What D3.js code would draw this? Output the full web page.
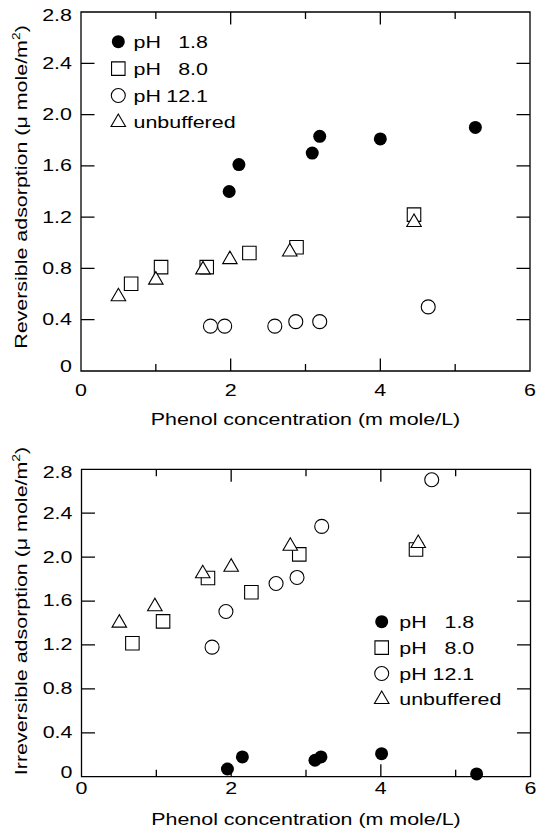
<!DOCTYPE html>
<html>
<head>
<meta charset="utf-8">
<script src="https://cdn.jsdelivr.net/npm/d3@7"></script>
<style>
  body { margin: 0; background: #fff; }
  svg text { font-family: "Liberation Sans", Arial, Helvetica, sans-serif; fill: #000; }
</style>
</head>
<body>
<svg id="chart" width="536" height="839"></svg>
<script>
// values: [phenol mmol/L, adsorption umol/m2]
const revPh18  = [[1.98, 1.40], [2.11, 1.61], [3.09, 1.70], [3.19, 1.83], [4.00, 1.81], [5.27, 1.90]];
const revPh80  = [[0.67, 0.68], [1.07, 0.81], [1.68, 0.81], [2.25, 0.92], [2.88, 0.965], [4.45, 1.22]];
const revPh121 = [[1.73, 0.35], [1.92, 0.35], [2.59, 0.35], [2.87, 0.385], [3.19, 0.385], [4.64, 0.50]];
const revUnbuf = [[0.50, 0.58], [1.00, 0.71], [1.63, 0.79], [1.99, 0.87], [2.79, 0.93], [4.45, 1.16]];

const irrPh18  = [[1.95, 0.07], [2.15, 0.18], [3.12, 0.15], [3.20, 0.18], [4.01, 0.21], [5.28, 0.025]];
const irrPh80  = [[0.68, 1.215], [1.09, 1.415], [1.69, 1.81], [2.27, 1.68], [2.91, 2.025], [4.47, 2.07]];
const irrPh121 = [[1.745, 1.18], [1.93, 1.505], [2.60, 1.76], [2.88, 1.815], [3.21, 2.28], [4.68, 2.705]];
const irrUnbuf = [[0.505, 1.40], [0.98, 1.55], [1.62, 1.85], [2.00, 1.91], [2.79, 2.10], [4.50, 2.125]];

const seriesKeys   = ["ph18", "ph80", "ph121", "unbuf"];
const legendPrefix = ["pH", "pH", "pH", "unbuffered"];
const legendValue  = ["1.8", "8.0", "12.1", ""];

const xMajorTicks = [0, 2, 4, 6];
const xMinorTicks = [1, 3, 5];
const yTicks = [0, 0.4, 0.8, 1.2, 1.6, 2.0, 2.4, 2.8];
const xTitle = "Phenol concentration (m mole/L)";

const STRETCH = 1.26; // the original lettering is wide
const FONT = 17;

const svg = d3.select("#chart");

const tri = (w, h) => `M0,${-2 * h / 3}L${-w / 2},${h / 3}L${w / 2},${h / 3}Z`;
const markers = {
  ph18:  { d: d3.symbol(d3.symbolCircle, Math.PI * 6.5 * 6.5)(), fill: "#000", stroke: "none" },
  ph80:  { d: d3.symbol(d3.symbolSquare, 13.5 * 13.5)(), fill: "#fff", stroke: "#000" },
  ph121: { d: d3.symbol(d3.symbolCircle, Math.PI * 7 * 7)(), fill: "#fff", stroke: "#000" },
  unbuf: { d: tri(14.5, 12.5), fill: "#fff", stroke: "#000" }
};

const panels = [
  {
    box: { left: 81, right: 530, top: 12, bottom: 371 },
    series: [revPh18, revPh80, revPh121, revUnbuf],
    yTitle: "Reversible adsorption (μ mole/m",
    tickPad: 13, titleY: 424.5, yTitleMid: 187,
    legend: { x: 118.3, y: 41.7, step: 26.9, textX: 133.5, valX: 208 }
  },
  {
    box: { left: 81.5, right: 530.5, top: 469.3, bottom: 776.7 },
    series: [irrPh18, irrPh80, irrPh121, irrUnbuf],
    yTitle: "Irreversible adsorption (μ mole/m",
    tickPad: 5, titleY: 825, yTitleMid: 611,
    legend: { x: 381.7, y: 621.7, step: 25.9, textX: 399.3, valX: 474.3 }
  }
];

// widen a text element without a transform
function widen(node) {
  const w = node.getComputedTextLength();
  d3.select(node).attr("textLength", w * STRETCH).attr("lengthAdjust", "spacingAndGlyphs");
}

function addText(parent, x, y, str, anchor) {
  const t = parent.append("text")
    .attr("x", x).attr("y", y)
    .attr("text-anchor", anchor)
    .attr("font-size", FONT)
    .text(str);
  widen(t.node());
  return t;
}

panels.forEach(p => {
  const b = p.box;
  const x = d3.scaleLinear().domain([0, 6]).range([b.left, b.right]);
  const y = d3.scaleLinear().domain([0, 2.8]).range([b.bottom, b.top]);
  const g = svg.append("g");

  // frame and inward ticks on all four sides
  const MAJ = 12.5, MIN = 7, YT = 13.5;
  let d = `M${b.left},${b.top}H${b.right}V${b.bottom}H${b.left}Z`;
  xMajorTicks.forEach(v => { d += `M${x(v)},${b.bottom}v${-MAJ}M${x(v)},${b.top}v${MAJ}`; });
  xMinorTicks.forEach(v => { d += `M${x(v)},${b.bottom}v${-MIN}M${x(v)},${b.top}v${MIN}`; });
  yTicks.forEach(v => { d += `M${b.left},${y(v)}h${YT}M${b.right},${y(v)}h${-YT}`; });
  g.append("path").attr("d", d)
    .attr("fill", "none").attr("stroke", "#000").attr("stroke-width", 1.3);

  // tick labels
  g.append("g").selectAll("text")
    .data(xMajorTicks)
    .join("text")
    .attr("x", v => x(v))
    .attr("y", b.bottom + p.tickPad)
    .attr("dy", "0.71em")
    .attr("text-anchor", "middle")
    .attr("font-size", FONT)
    .text(d3.format("d"))
    .each(function () { widen(this); });

  g.append("g").selectAll("text")
    .data(yTicks)
    .join("text")
    .attr("x", b.left - 9)
    .attr("y", v => y(v) + (v === 0 ? -4 : (v === 2.8 ? 3.5 : 0)))
    .attr("dy", "0.32em")
    .attr("text-anchor", "end")
    .attr("font-size", FONT)
    .text(v => v === 0 ? "0" : d3.format(".1f")(v))
    .each(function () { widen(this); });

  // axis titles
  addText(g, (b.left + b.right) / 2, p.titleY, xTitle, "middle");
  const yg = g.append("g").attr("transform", `translate(26.5,${p.yTitleMid}) rotate(-90)`);
  const yt = yg.append("text")
    .attr("text-anchor", "middle")
    .attr("font-size", FONT);
  yt.append("tspan").text(p.yTitle);
  yt.append("tspan").attr("font-size", 11).attr("dy", -7).text("2");
  yt.append("tspan").attr("dy", 7).text(")");
  widen(yt.node());

  // points
  p.series.forEach((data, i) => {
    const m = markers[seriesKeys[i]];
    g.append("g").selectAll("path")
      .data(data)
      .join("path")
      .attr("transform", v => `translate(${x(v[0])},${y(v[1])})`)
      .attr("d", m.d)
      .attr("fill", m.fill)
      .attr("stroke", m.stroke)
      .attr("stroke-width", 1.1);
  });

  // legend
  const L = p.legend;
  seriesKeys.forEach((k, i) => {
    const cy = L.y + i * L.step;
    const m = markers[k];
    g.append("path")
      .attr("transform", `translate(${L.x},${cy})`)
      .attr("d", m.d).attr("fill", m.fill).attr("stroke", m.stroke).attr("stroke-width", 1.1);
    addText(g, L.textX, cy + 6, legendPrefix[i], "start");
    if (legendValue[i]) addText(g, L.valX, cy + 6, legendValue[i], "end");
  });
});
</script>
</body>
</html>
